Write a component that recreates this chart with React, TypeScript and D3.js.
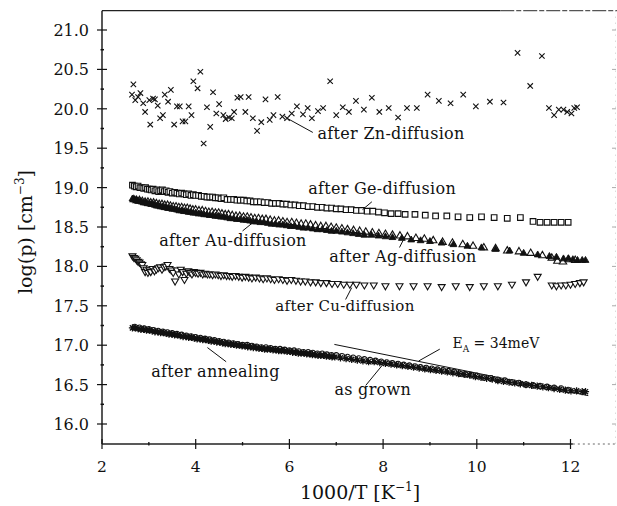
import React from 'react';
import * as d3 from 'd3';

// ---------- axis ticks ----------
const xTickValues = [2, 4, 6, 8, 10, 12];
const xTickLabels = ['2', '4', '6', '8', '10', '12'];
const xMinorTicks = [3, 5, 7, 9, 11];
const yTickValues = [16, 16.5, 17, 17.5, 18, 18.5, 19, 19.5, 20, 20.5, 21];
const yTickLabels = ['16.0', '16.5', '17.0', '17.5', '18.0', '18.5', '19.0', '19.5', '20.0', '20.5', '21.0'];
const yMinorTicks = [16.25, 16.75, 17.25, 17.75, 18.25, 18.75, 19.25, 19.75, 20.25, 20.75];

// ---------- series: [1000/T, log(p)] ----------
const znData: [number, number][] = [
  [2.64, 20.18], [2.67, 20.31], [2.71, 20.11], [2.77, 20.15], [2.82, 20.2], [2.88, 20.07], [2.92, 19.96], [3.01, 20.11], [3.03, 19.8], [3.09, 20.13],
  [3.13, 20.12], [3.19, 20.04], [3.24, 19.88], [3.3, 19.92], [3.34, 20.18], [3.41, 20.09], [3.47, 20.24], [3.54, 19.8], [3.6, 20.03], [3.66, 20.03],
  [3.72, 19.84], [3.78, 19.84], [3.85, 20.03], [3.91, 19.92], [3.95, 20.35], [4.04, 20.26], [4.1, 20.47], [4.17, 19.56], [4.24, 20.02], [4.31, 19.77],
  [4.37, 20.21], [4.44, 19.94], [4.5, 20.06], [4.59, 19.92], [4.64, 19.87], [4.71, 19.89], [4.77, 19.88], [4.82, 19.96], [4.89, 20.14], [4.96, 20.15],
  [5.06, 19.96], [5.13, 20.15], [5.22, 19.88], [5.31, 19.72], [5.4, 19.83], [5.49, 20.12], [5.58, 19.86], [5.66, 19.92], [5.75, 20.15], [5.85, 19.9],
  [5.95, 19.88], [6.05, 19.94], [6.16, 20.03], [6.29, 19.93], [6.39, 20.01], [6.48, 19.88], [6.61, 19.97], [6.72, 20.01], [6.87, 20.35], [7.0, 19.92],
  [7.14, 20.02], [7.27, 19.96], [7.42, 20.1], [7.59, 19.99], [7.76, 20.14], [7.92, 19.96], [8.12, 20.01], [8.32, 19.89], [8.51, 20.01], [8.72, 20.01],
  [8.95, 20.18], [9.19, 20.1], [9.44, 20.07], [9.71, 20.18], [9.98, 20.03], [10.28, 20.09], [10.57, 20.08], [10.87, 20.71], [11.14, 20.29], [11.39, 20.67],
  [11.54, 20.01], [11.65, 19.92], [11.75, 19.99], [11.85, 19.99], [11.93, 19.96], [12.02, 19.94], [12.08, 20.01], [12.14, 20.02],
];

const geData: [number, number][] = [
  [2.65, 19.03], [2.69, 19.02], [2.73, 19.01], [2.77, 19.02], [2.81, 19.0], [2.85, 19.0], [2.89, 18.99], [2.93, 19.0], [2.97, 18.98], [3.01, 18.98],
  [3.05, 18.97], [3.09, 18.98], [3.13, 18.96], [3.17, 18.97], [3.21, 18.95], [3.25, 18.96], [3.29, 18.97], [3.33, 18.95], [3.37, 18.96], [3.41, 18.94],
  [3.45, 18.95], [3.5, 18.93], [3.55, 18.94], [3.6, 18.93], [3.65, 18.92], [3.7, 18.93], [3.75, 18.92], [3.8, 18.91], [3.85, 18.92], [3.9, 18.9],
  [3.95, 18.91], [4.0, 18.9], [4.06, 18.9], [4.12, 18.89], [4.18, 18.89], [4.24, 18.88], [4.3, 18.88], [4.36, 18.88], [4.42, 18.87], [4.48, 18.87],
  [4.54, 18.86], [4.6, 18.87], [4.67, 18.85], [4.74, 18.85], [4.81, 18.85], [4.88, 18.84], [4.95, 18.84], [5.02, 18.84], [5.09, 18.83], [5.16, 18.83],
  [5.23, 18.82], [5.3, 18.82], [5.38, 18.82], [5.46, 18.81], [5.54, 18.81], [5.62, 18.8], [5.7, 18.8], [5.78, 18.8], [5.86, 18.79], [5.94, 18.79],
  [6.03, 18.78], [6.12, 18.78], [6.21, 18.77], [6.3, 18.77], [6.4, 18.76], [6.5, 18.76], [6.6, 18.75], [6.7, 18.75], [6.8, 18.74], [6.9, 18.74],
  [7.0, 18.73], [7.1, 18.73], [7.21, 18.72], [7.32, 18.72], [7.43, 18.71], [7.54, 18.71], [7.66, 18.7], [7.78, 18.7], [7.9, 18.69], [8.03, 18.68],
  [8.17, 18.67], [8.32, 18.67], [8.47, 18.66], [8.68, 18.66], [8.9, 18.65], [9.12, 18.64], [9.36, 18.64], [9.6, 18.63], [9.85, 18.62], [10.1, 18.63],
  [10.37, 18.62], [10.65, 18.61], [10.93, 18.62], [11.2, 18.57], [11.35, 18.56], [11.5, 18.56], [11.65, 18.56], [11.8, 18.56], [11.95, 18.56],
];

const auData: [number, number][] = [
  [2.65, 18.86], [2.69, 18.85], [2.73, 18.85], [2.77, 18.83], [2.81, 18.83], [2.85, 18.82], [2.89, 18.81], [2.93, 18.81], [2.97, 18.8], [3.01, 18.8],
  [3.05, 18.79], [3.09, 18.79], [3.13, 18.78], [3.17, 18.77], [3.21, 18.77], [3.25, 18.76], [3.29, 18.76], [3.33, 18.75], [3.37, 18.75], [3.41, 18.74],
  [3.45, 18.74], [3.5, 18.73], [3.55, 18.73], [3.6, 18.72], [3.65, 18.71], [3.7, 18.71], [3.75, 18.7], [3.8, 18.7], [3.85, 18.69], [3.9, 18.69],
  [3.95, 18.68], [4.0, 18.68], [4.06, 18.67], [4.12, 18.67], [4.18, 18.66], [4.24, 18.66], [4.3, 18.65], [4.36, 18.65], [4.42, 18.64], [4.48, 18.64],
  [4.54, 18.63], [4.6, 18.63], [4.67, 18.62], [4.74, 18.61], [4.81, 18.61], [4.88, 18.6], [4.95, 18.6], [5.02, 18.59], [5.09, 18.59], [5.16, 18.58],
  [5.23, 18.57], [5.3, 18.57], [5.38, 18.56], [5.46, 18.56], [5.54, 18.55], [5.62, 18.54], [5.7, 18.54], [5.78, 18.53], [5.86, 18.53], [5.94, 18.52],
  [6.03, 18.51], [6.12, 18.51], [6.21, 18.5], [6.3, 18.49], [6.4, 18.49], [6.5, 18.48], [6.6, 18.47], [6.7, 18.47], [6.8, 18.46], [6.9, 18.45],
  [7.0, 18.45], [7.12, 18.44], [7.24, 18.43], [7.36, 18.42], [7.48, 18.41], [7.6, 18.4], [7.75, 18.4], [7.9, 18.39], [8.05, 18.38], [8.2, 18.37],
  [8.4, 18.36], [8.6, 18.34], [8.8, 18.33], [9.0, 18.32], [9.25, 18.3], [9.5, 18.28], [9.8, 18.26], [10.1, 18.24], [10.4, 18.22], [10.7, 18.2],
  [11.0, 18.17], [11.3, 18.15], [11.55, 18.13], [11.7, 18.12], [11.85, 18.1], [11.95, 18.1], [12.05, 18.09], [12.15, 18.08], [12.25, 18.08], [12.32, 18.08],
];

const agData: [number, number][] = [
  [2.68, 18.85], [2.74, 18.84], [2.8, 18.84], [2.86, 18.83], [2.92, 18.82], [2.98, 18.82], [3.04, 18.81], [3.1, 18.81], [3.16, 18.8], [3.22, 18.79],
  [3.28, 18.79], [3.34, 18.78], [3.4, 18.78], [3.46, 18.77], [3.52, 18.76], [3.58, 18.76], [3.64, 18.75], [3.7, 18.75], [3.76, 18.74], [3.82, 18.74],
  [3.88, 18.73], [3.94, 18.72], [4.0, 18.72], [4.07, 18.71], [4.14, 18.71], [4.21, 18.7], [4.28, 18.69], [4.35, 18.69], [4.42, 18.68], [4.49, 18.68],
  [4.56, 18.67], [4.63, 18.66], [4.7, 18.66], [4.78, 18.65], [4.86, 18.64], [4.94, 18.64], [5.02, 18.63], [5.1, 18.63], [5.18, 18.62], [5.26, 18.61],
  [5.34, 18.61], [5.42, 18.6], [5.5, 18.6], [5.59, 18.59], [5.68, 18.58], [5.77, 18.58], [5.86, 18.57], [5.95, 18.56], [6.05, 18.56], [6.15, 18.55],
  [6.25, 18.54], [6.35, 18.54], [6.45, 18.53], [6.56, 18.52], [6.67, 18.51], [6.78, 18.51], [6.89, 18.5], [7.0, 18.49], [7.12, 18.48], [7.24, 18.47],
  [7.37, 18.46], [7.5, 18.45], [7.63, 18.44], [7.77, 18.43], [7.91, 18.42], [8.05, 18.41], [8.2, 18.4], [8.36, 18.39], [8.52, 18.38], [8.7, 18.36],
  [8.88, 18.35], [9.07, 18.33], [9.27, 18.31], [9.48, 18.3], [9.7, 18.28], [9.92, 18.26], [10.15, 18.24], [10.4, 18.23], [10.65, 18.2], [10.9, 18.19],
  [11.15, 18.17], [11.4, 18.14], [11.6, 18.11], [11.72, 18.07], [11.84, 18.06], [11.96, 18.09], [12.1, 18.08],
];

const cuData: [number, number][] = [
  [2.65, 18.13], [2.68, 18.11], [2.71, 18.1], [2.74, 18.08], [2.77, 18.06], [2.8, 18.05], [2.83, 18.03], [2.86, 18.02], [2.89, 17.98], [2.92, 17.93],
  [2.95, 17.96], [2.98, 17.92], [3.01, 17.95], [3.04, 17.93], [3.08, 17.97], [3.12, 17.94], [3.16, 17.96], [3.2, 17.98], [3.24, 17.99], [3.28, 17.96],
  [3.32, 17.99], [3.36, 18.0], [3.4, 18.02], [3.44, 17.97], [3.48, 17.95], [3.52, 17.92], [3.56, 17.81], [3.6, 17.95], [3.64, 17.9], [3.68, 17.96],
  [3.72, 17.93], [3.76, 17.83], [3.8, 17.91], [3.84, 17.94], [3.88, 17.92], [3.92, 17.9], [3.96, 17.93], [4.0, 17.92], [4.05, 17.91], [4.1, 17.92],
  [4.15, 17.9], [4.2, 17.91], [4.25, 17.9], [4.3, 17.9], [4.36, 17.89], [4.42, 17.9], [4.48, 17.89], [4.54, 17.88], [4.6, 17.89], [4.66, 17.88],
  [4.72, 17.88], [4.78, 17.87], [4.85, 17.88], [4.92, 17.87], [4.99, 17.86], [5.06, 17.87], [5.13, 17.86], [5.2, 17.85], [5.28, 17.86], [5.36, 17.85],
  [5.44, 17.84], [5.52, 17.85], [5.6, 17.84], [5.68, 17.83], [5.77, 17.84], [5.86, 17.83], [5.95, 17.82], [6.04, 17.83], [6.14, 17.82], [6.24, 17.81],
  [6.34, 17.81], [6.45, 17.8], [6.56, 17.8], [6.67, 17.79], [6.79, 17.79], [6.91, 17.78], [7.03, 17.78], [7.16, 17.77], [7.29, 17.77], [7.43, 17.77],
  [7.6, 17.76], [7.8, 17.76], [8.05, 17.75], [8.35, 17.75], [8.65, 17.75], [8.95, 17.75], [9.25, 17.74], [9.55, 17.75], [9.85, 17.74], [10.15, 17.75],
  [10.45, 17.75], [10.75, 17.77], [11.05, 17.8], [11.3, 17.87], [11.6, 17.76], [11.7, 17.75], [11.8, 17.76], [11.9, 17.76], [12.0, 17.77], [12.1, 17.78],
  [12.2, 17.79], [12.28, 17.8],
];

const annealData: [number, number][] = [
  [2.65, 17.22], [2.71, 17.22], [2.77, 17.21], [2.83, 17.2], [2.89, 17.2], [2.95, 17.19], [3.01, 17.19], [3.07, 17.18], [3.13, 17.17], [3.19, 17.17],
  [3.25, 17.16], [3.31, 17.16], [3.37, 17.15], [3.43, 17.14], [3.49, 17.14], [3.55, 17.13], [3.61, 17.13], [3.67, 17.12], [3.73, 17.11], [3.79, 17.11],
  [3.85, 17.1], [3.91, 17.1], [3.97, 17.09], [4.03, 17.08], [4.09, 17.08], [4.15, 17.07], [4.21, 17.07], [4.27, 17.06], [4.33, 17.05], [4.39, 17.05],
  [4.45, 17.04], [4.51, 17.04], [4.57, 17.03], [4.63, 17.02], [4.69, 17.02], [4.75, 17.01], [4.81, 17.01], [4.87, 17.0], [4.93, 17.0], [4.99, 16.99],
  [5.05, 16.99], [5.11, 16.98], [5.17, 16.98], [5.23, 16.97], [5.29, 16.97], [5.35, 16.96], [5.41, 16.96], [5.47, 16.95], [5.53, 16.95], [5.59, 16.95],
  [5.65, 16.94], [5.71, 16.94], [5.77, 16.93], [5.83, 16.93], [5.89, 16.93], [5.95, 16.92], [6.01, 16.92], [6.07, 16.91], [6.13, 16.91], [6.19, 16.9],
  [6.25, 16.9], [6.31, 16.9], [6.37, 16.89], [6.43, 16.89], [6.49, 16.88], [6.55, 16.88], [6.61, 16.87], [6.67, 16.87], [6.73, 16.87], [6.79, 16.86],
  [6.85, 16.86], [6.91, 16.85], [6.97, 16.85], [7.09, 16.84], [7.21, 16.83], [7.33, 16.82], [7.45, 16.81], [7.57, 16.8], [7.69, 16.79], [7.81, 16.79],
  [7.93, 16.78], [8.05, 16.77], [8.17, 16.76], [8.29, 16.75], [8.41, 16.74], [8.53, 16.73], [8.65, 16.72], [8.77, 16.71], [8.89, 16.7], [9.01, 16.69],
  [9.13, 16.68], [9.25, 16.67], [9.37, 16.66], [9.49, 16.65], [9.61, 16.64], [9.73, 16.63], [9.85, 16.62], [9.97, 16.6], [10.09, 16.59], [10.21, 16.58],
  [10.33, 16.57], [10.45, 16.55], [10.57, 16.54], [10.69, 16.53], [10.81, 16.52], [10.93, 16.51], [11.05, 16.5], [11.17, 16.49], [11.29, 16.48], [11.41, 16.47],
  [11.53, 16.46], [11.65, 16.45], [11.77, 16.44], [11.89, 16.43], [12.01, 16.42], [12.13, 16.42], [12.25, 16.41], [12.32, 16.41],
];

const grownData: [number, number][] = [
  [2.7, 17.23], [2.8, 17.22], [2.9, 17.21], [3.0, 17.2], [3.1, 17.19], [3.2, 17.18], [3.3, 17.17], [3.4, 17.16], [3.5, 17.15], [3.6, 17.14],
  [3.7, 17.13], [3.8, 17.12], [3.9, 17.11], [4.0, 17.1], [4.1, 17.09], [4.2, 17.08], [4.3, 17.07], [4.4, 17.06], [4.5, 17.05], [4.6, 17.04],
  [4.7, 17.03], [4.8, 17.02], [4.9, 17.01], [5.0, 17.0], [5.1, 17.0], [5.2, 16.99], [5.3, 16.98], [5.4, 16.97], [5.5, 16.97], [5.6, 16.96],
  [5.7, 16.95], [5.8, 16.95], [5.9, 16.94], [6.0, 16.93], [6.1, 16.93], [6.2, 16.92], [6.3, 16.91], [6.4, 16.91], [6.5, 16.9], [6.6, 16.89],
  [6.7, 16.89], [6.8, 16.88], [6.9, 16.87], [7.0, 16.87], [7.12, 16.86], [7.24, 16.85], [7.36, 16.84], [7.48, 16.83], [7.6, 16.82], [7.72, 16.81],
  [7.84, 16.8], [7.96, 16.79], [8.08, 16.78], [8.2, 16.77], [8.32, 16.76], [8.44, 16.75], [8.56, 16.74], [8.68, 16.73], [8.8, 16.72], [8.92, 16.71],
  [9.04, 16.7], [9.16, 16.69], [9.28, 16.68], [9.4, 16.67], [9.52, 16.66], [9.64, 16.64], [9.76, 16.63], [9.88, 16.62], [10.0, 16.61], [10.15, 16.59],
  [10.3, 16.58], [10.45, 16.56], [10.6, 16.55], [10.75, 16.53], [10.9, 16.52], [11.05, 16.5], [11.2, 16.49], [11.35, 16.48], [11.5, 16.47], [11.65, 16.46],
  [11.8, 16.45], [11.95, 16.43],
];

// activation-energy fit line (E_A = 34 meV)
const fitData: [number, number][] = [[6.96, 17.01], [12.38, 16.36]];

// annotations: text, text position (value space), leader line
const labelTexts = ['after Zn-diffusion', 'after Ge-diffusion', 'after Au-diffusion', 'after Ag-diffusion', 'after Cu-diffusion', 'after annealing', 'as grown'];
const labelX = [6.6, 6.4, 3.22, 6.85, 5.7, 3.05, 6.96];
const labelY = [19.62, 18.92, 18.26, 18.06, 17.43, 16.6, 16.37];
const leaderX1 = [5.95, 7.76, 5.0, 8.35, 7.2, 4.65, 7.63];
const leaderY1 = [19.88, 18.82, 18.45, 18.24, 17.58, 16.79, 16.49];
const leaderX2 = [6.5, 7.56, 5.25, 8.47, 7.33, 4.25, 8.03];
const leaderY2 = [19.7, 18.72, 18.57, 18.38, 17.73, 16.97, 16.78];

const W = 617;
const H = 506;
const FONT = '"DejaVu Serif", serif';

type MarkerKind = 'times' | 'square' | 'tri' | 'trifill' | 'tridown' | 'plus' | 'circle';

function markerPath(kind: MarkerKind): string {
  switch (kind) {
    case 'times':
      return 'M-2.7,-2.7L2.7,2.7M-2.7,2.7L2.7,-2.7';
    case 'square':
      return 'M-2.8,-2.8H2.8V2.8H-2.8Z';
    case 'tri':
      return 'M0,-4L3.7,2.4H-3.7Z';
    case 'trifill':
      return 'M0,-3.6L3.4,2.3H-3.4Z';
    case 'tridown':
      return 'M0,3.7L3.5,-2.3H-3.5Z';
    case 'plus':
      return 'M-3.6,0H3.6M0,-3.6V3.6M-2.6,-2.6L2.6,2.6M-2.6,2.6L2.6,-2.6';
    case 'circle':
      return 'M2.8,0A2.8,2.8 0 1,1 -2.8,0A2.8,2.8 0 1,1 2.8,0Z';
  }
}

export default function App() {
  const x = d3.scaleLinear().domain([2, 13]).range([102, 617.35]);
  const y = d3.scaleLinear().domain([16, 21]).range([424, 30]);
  const x0 = x(2);
  const yTop = y(21.245);
  const yBot = y(15.746);

  const series: { data: [number, number][]; kind: MarkerKind; fill: string; sw: number }[] = [
    { data: znData, kind: 'times', fill: 'none', sw: 1.1 },
    { data: geData, kind: 'square', fill: 'white', sw: 1.15 },
    { data: agData, kind: 'tri', fill: 'white', sw: 1.1 },
    { data: auData, kind: 'trifill', fill: '#111', sw: 0.9 },
    { data: cuData, kind: 'tridown', fill: 'white', sw: 1.1 },
    { data: grownData, kind: 'circle', fill: 'white', sw: 1.1 },
    { data: annealData, kind: 'plus', fill: 'none', sw: 1.3 },
  ];

  const fitLine = d3
    .line<[number, number]>()
    .x((d) => x(d[0]))
    .y((d) => y(d[1]));

  return (
    <svg
      width={W}
      height={H}
      viewBox={`0 0 ${W} ${H}`}
      style={{ position: 'absolute', left: 0, top: 0, background: 'white' }}
    >
      <rect x={0} y={0} width={W} height={H} fill="white" />
      {/* frame */}
      <line x1={x0} x2={x(10.5)} y1={yTop} y2={yTop} stroke="#222" strokeWidth={1.3} />
      <line x1={x(10.5)} x2={W} y1={yTop} y2={yTop} stroke="#555" strokeWidth={1.2} strokeDasharray="14 2 5 2" />
      <line x1={W - 1.5} x2={W - 1.5} y1={yTop} y2={yBot} stroke="#ccc" strokeWidth={1} strokeDasharray="1 5" />
      <line x1={x0} x2={x0} y1={yTop} y2={yBot} stroke="#111" strokeWidth={1.4} />
      <line x1={x0} x2={x(12.05)} y1={yBot} y2={yBot} stroke="#222" strokeWidth={1.3} />
      <line x1={x(12.05)} x2={W} y1={yBot} y2={yBot} stroke="#666" strokeWidth={1} strokeDasharray="2 3" />

      {/* y ticks */}
      {yTickValues.map((v, i) => (
        <g key={'yt' + i}>
          <line x1={x0 - 5} x2={x0 + 5} y1={y(v)} y2={y(v)} stroke="#111" strokeWidth={1.2} />
          <line x1={W - 5} x2={W - 1} y1={y(v)} y2={y(v)} stroke="#aaa" strokeWidth={1} />
          <text x={89} y={y(v) + 6} textAnchor="end" fontFamily={FONT} fontSize={16} fill="#111">
            {yTickLabels[i]}
          </text>
        </g>
      ))}
      {yMinorTicks.map((v, i) => (
        <line key={'ym' + i} x1={x0 - 1.5} x2={x0 + 2} y1={y(v)} y2={y(v)} stroke="#111" strokeWidth={1.5} />
      ))}

      {/* x ticks */}
      {xTickValues.map((v, i) => (
        <g key={'xt' + i}>
          <line x1={x(v)} x2={x(v)} y1={yBot - 5} y2={yBot + 5} stroke="#111" strokeWidth={1.2} />
          <text x={x(v)} y={472} textAnchor="middle" fontFamily={FONT} fontSize={15.5} fill="#111">
            {xTickLabels[i]}
          </text>
        </g>
      ))}
      {xMinorTicks.map((v, i) => (
        <line key={'xm' + i} x1={x(v)} x2={x(v)} y1={yBot - 2} y2={yBot + 1.5} stroke="#111" strokeWidth={1.3} />
      ))}

      {/* axis titles */}
      <text x={360} y={499} textAnchor="middle" fontFamily={FONT} fontSize={19} fill="#111">
        1000/T [K
        <tspan dy={-8} fontSize={12}>−1</tspan>
        <tspan dy={8}>]</tspan>
      </text>
      <text
        transform="translate(32,232) rotate(-90)"
        textAnchor="middle"
        fontFamily={FONT}
        fontSize={19}
        fill="#111"
      >
        log(p) [cm
        <tspan dy={-8} fontSize={12}>−3</tspan>
        <tspan dy={8}>]</tspan>
      </text>

      {/* fit line */}
      <path d={fitLine(fitData) || ''} fill="none" stroke="#111" strokeWidth={1} />

      {/* data */}
      {series.map((s, si) => (
        <g key={'s' + si}>
          {s.data.map((d, i) => (
            <path
              key={i}
              transform={`translate(${x(d[0])},${y(d[1])})`}
              d={markerPath(s.kind)}
              fill={s.fill}
              stroke="#111"
              strokeWidth={s.sw}
            />
          ))}
        </g>
      ))}

      {/* leaders and labels */}
      {labelTexts.map((t, i) => (
        <g key={'lb' + i}>
          <line
            x1={x(leaderX1[i])}
            y1={y(leaderY1[i])}
            x2={x(leaderX2[i])}
            y2={y(leaderY2[i])}
            stroke="#111"
            strokeWidth={1}
          />
          <text
            x={x(labelX[i])}
            y={y(labelY[i])}
            fontFamily={FONT}
            fontSize={i === 4 ? 15 : 16}
            letterSpacing={0.3}
            fill="#111"
          >
            {t}
          </text>
        </g>
      ))}
      {/* E_A label */}
      <line x1={x(9.21)} y1={y(16.95)} x2={x(8.76)} y2={y(16.8)} stroke="#111" strokeWidth={1} />
      <text x={x(9.48)} y={y(16.97)} fontFamily={FONT} fontSize={14} fill="#111">
        E
        <tspan dy={4} fontSize={9}>A</tspan>
        <tspan dy={-4}> = 34meV</tspan>
      </text>
    </svg>
  );
}
